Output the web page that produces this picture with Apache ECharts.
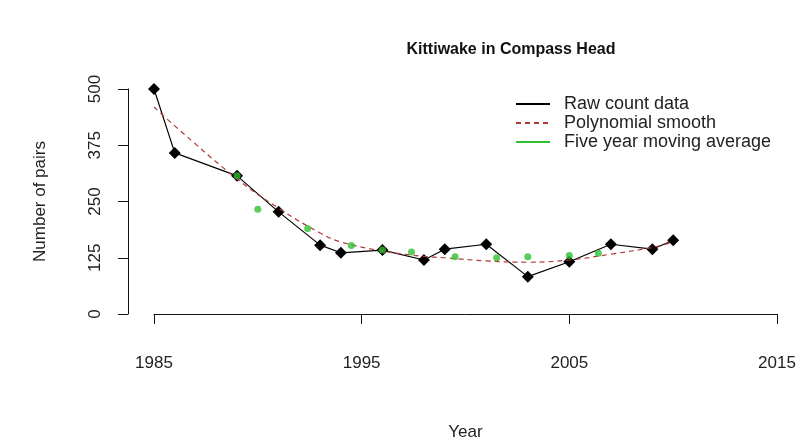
<!DOCTYPE html>
<html>
<head>
<meta charset="utf-8">
<script src="https://cdn.jsdelivr.net/npm/echarts@6/dist/echarts.min.js"></script>
<style>html,body{margin:0;padding:0;background:#fff;}#c{width:803px;height:448px;}</style>
</head>
<body>
<div id="c"></div>
<script>
var titleText = 'Kittiwake in Compass Head';
var xName = 'Year';
var yName = 'Number of pairs';
var legendNames = ['Raw count data', 'Polynomial smooth', 'Five year moving average'];

var rawYears  = [1985, 1986, 1989, 1991, 1993, 1994, 1996, 1998, 1999, 2001, 2003, 2005, 2007, 2009, 2010];
var rawCounts = [500, 358, 307, 227, 153, 136, 142, 120, 144, 155, 83, 116, 155, 144, 164];

var smoothYears  = [1985, 1986, 1989, 1991, 1993, 1994, 1996, 1998, 1999, 2001, 2003, 2005, 2007, 2009, 2010];
var smoothValues = [460, 418, 300, 235, 180, 160, 140, 128, 125, 118, 115, 120, 133, 148, 160];

var avgYears  = [1989, 1990, 1992.4, 1994.5, 1996, 1997.4, 1999.5, 2001.5, 2003, 2005, 2006.4];
var avgValues = [307, 233, 190, 152, 142, 138, 127, 125, 127, 130, 135];

var xTicks = [1985, 1995, 2005, 2015];
var yTicks = [0, 125, 250, 375, 500];

function pairs(xs, ys) { return xs.map(function (x, i) { return [x, ys[i]]; }); }

var font = 'Liberation Sans, Arial, sans-serif';
var chart = echarts.init(document.getElementById('c'), null, {renderer: 'canvas'});
chart.setOption({
  animation: false,
  backgroundColor: '#fff',
  title: {
    text: titleText, left: 506, top: 37, textAlign: 'center',
    textStyle: {fontFamily: font, fontWeight: 'bold', fontSize: 16, color: '#111'}
  },
  legend: {
    orient: 'vertical', left: 510, top: 90,
    itemWidth: 34, itemHeight: 14, itemGap: 1,
    data: legendNames,
    itemStyle: {opacity: 0},
    textStyle: {fontFamily: font, fontSize: 18, color: '#222', padding: [0, 0, 0, 9]}
  },
  grid: {left: 154, right: 26, top: 89, bottom: 134},
  xAxis: {
    type: 'value', min: xTicks[0], max: xTicks[xTicks.length - 1], interval: 10,
    offset: 11,
    name: xName, nameLocation: 'middle', nameGap: 99,
    nameTextStyle: {fontFamily: font, fontSize: 17, color: '#222'},
    axisLine: {show: true, lineStyle: {color: '#111', width: 1}},
    axisTick: {show: true, length: 10, lineStyle: {color: '#111'}},
    axisLabel: {margin: 30, fontFamily: font, fontSize: 17, color: '#222',
      formatter: function (v) { return String(v); }},
    splitLine: {show: false}
  },
  yAxis: {
    type: 'value', min: yTicks[0], max: yTicks[yTicks.length - 1], interval: 125,
    offset: 26,
    name: yName, nameLocation: 'middle', nameGap: 79,
    nameTextStyle: {fontFamily: font, fontSize: 17, color: '#222'},
    axisLine: {show: true, lineStyle: {color: '#111', width: 1}},
    axisTick: {show: true, length: 10, lineStyle: {color: '#111'}},
    axisLabel: {margin: 24, rotate: 90, fontFamily: font, fontSize: 17, color: '#222',
      formatter: function (v) { return String(v); }},
    splitLine: {show: false}
  },
  series: [
    {name: legendNames[0], type: 'line', data: [], symbol: 'none', lineStyle: {color: '#000', width: 1.2}, itemStyle: {color: '#000'}},
    {name: legendNames[1], type: 'line', data: [], symbol: 'none', lineStyle: {color: '#b03a3a', width: 1.2, type: [5, 4]}, itemStyle: {color: '#b03a3a'}},
    {name: legendNames[2], type: 'line', data: [], symbol: 'none', lineStyle: {color: '#2fbf2f', width: 1.2}, itemStyle: {color: '#2fbf2f'}},
    {
      name: 'raw', type: 'line', data: pairs(rawYears, rawCounts),
      symbol: 'diamond', symbolSize: 12, itemStyle: {color: '#000'},
      lineStyle: {color: '#000', width: 1.2}, z: 3
    },
    {
      name: 'smooth', type: 'line', data: pairs(smoothYears, smoothValues), smooth: 0.4,
      symbol: 'none', lineStyle: {color: '#b03a3a', width: 1.2, type: [5, 4]}, z: 4
    },
    {
      name: 'avg', type: 'scatter', data: pairs(avgYears, avgValues),
      symbol: 'circle', symbolSize: 7, itemStyle: {color: '#2fbf2f'}, z: 5
    }
  ]
});
</script>
</body>
</html>
